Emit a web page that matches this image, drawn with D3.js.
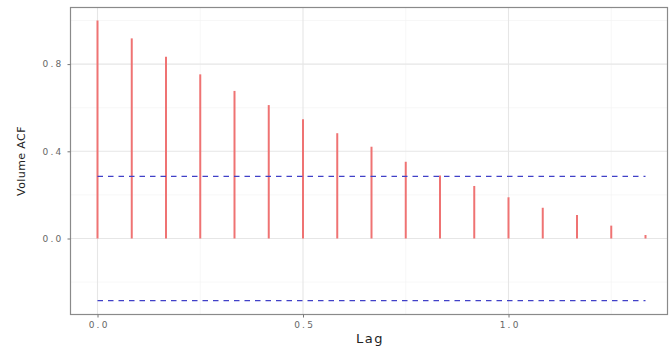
<!DOCTYPE html>
<html>
<head>
<meta charset="utf-8">
<script src="https://cdn.jsdelivr.net/npm/d3@7"></script>
<style>
  html, body { margin: 0; padding: 0; background: #fff; }
  svg { display: block; }
</style>
</head>
<body>
<svg id="chart" width="669" height="351"></svg>
<script>
// ---- data ----
const lags = [0, 1, 2, 3, 4, 5, 6, 7, 8, 9, 10, 11, 12, 13, 14, 15, 16].map(k => k / 12);
const acfValues = [1.0, 0.918, 0.834, 0.753, 0.677, 0.612, 0.547, 0.483, 0.421, 0.352, 0.289, 0.241, 0.189, 0.141, 0.108, 0.059, 0.016];
const ciBound = 0.285;
const xTicks = [0.0, 0.5, 1.0];
const xMinorTicks = [0.25, 0.75, 1.25];
const yTicks = [0.0, 0.4, 0.8];
const yMinorTicks = [-0.2, 0.2, 0.6, 1.0];
const xTitle = "Lag";
const yTitle = "Volume ACF";

// ---- layout ----
const svg = d3.select("#chart");
const panel = { left: 70.5, right: 667.5, top: 7.5, bottom: 314.5 };

const pxPerX = 411;
const x = d3.scaleLinear()
  .domain([(panel.left - 97.5) / pxPerX, (panel.right - 97.5) / pxPerX])
  .range([panel.left, panel.right]);
const pxPerY = 218;
const y = d3.scaleLinear()
  .domain([-(panel.bottom - 238.5) / pxPerY, (238.5 - panel.top) / pxPerY])
  .range([panel.bottom, panel.top]);

// minor grid
svg.append("g").selectAll("line").data(xMinorTicks).join("line")
  .attr("x1", d => x(d)).attr("x2", d => x(d))
  .attr("y1", panel.top).attr("y2", panel.bottom)
  .attr("stroke", "#f2f2f2").attr("stroke-width", 0.6);
svg.append("g").selectAll("line").data(yMinorTicks).join("line")
  .attr("y1", d => y(d)).attr("y2", d => y(d))
  .attr("x1", panel.left).attr("x2", panel.right)
  .attr("stroke", "#f2f2f2").attr("stroke-width", 0.6);
// major grid
svg.append("g").selectAll("line").data(xTicks).join("line")
  .attr("x1", d => x(d)).attr("x2", d => x(d))
  .attr("y1", panel.top).attr("y2", panel.bottom)
  .attr("stroke", "#e6e6e6").attr("stroke-width", 1.1);
svg.append("g").selectAll("line").data(yTicks).join("line")
  .attr("y1", d => y(d)).attr("y2", d => y(d))
  .attr("x1", panel.left).attr("x2", panel.right)
  .attr("stroke", "#e6e6e6").attr("stroke-width", 1.1);

// ACF bars
svg.append("g").selectAll("line").data(acfValues).join("line")
  .attr("x1", (d, i) => x(lags[i])).attr("x2", (d, i) => x(lags[i]))
  .attr("y1", y(0)).attr("y2", d => y(d))
  .attr("stroke", "#ef7373").attr("stroke-width", 2);

// confidence lines
const lagExtent = d3.extent(lags);
svg.append("g").selectAll("line").data([ciBound, -ciBound]).join("line")
  .attr("x1", x(lagExtent[0])).attr("x2", x(lagExtent[1]))
  .attr("y1", d => y(d)).attr("y2", d => y(d))
  .attr("stroke", "#4040c8").attr("stroke-width", 1.2)
  .attr("stroke-dasharray", "5.5,5");

// panel border
svg.append("rect")
  .attr("x", panel.left).attr("y", panel.top)
  .attr("width", panel.right - panel.left).attr("height", panel.bottom - panel.top)
  .attr("fill", "none").attr("stroke", "#8a8a8a").attr("stroke-width", 1.2);

// axes
const fontFam = "'DejaVu Sans', Verdana, sans-serif";
const xAxis = svg.append("g").attr("transform", `translate(0,${panel.bottom})`)
  .call(d3.axisBottom(x).tickValues(xTicks).tickFormat(d3.format(".1f")).tickSize(3).tickPadding(4));
const yAxis = svg.append("g").attr("transform", `translate(${panel.left},0)`)
  .call(d3.axisLeft(y).tickValues(yTicks).tickFormat(d3.format(".1f")).tickSize(3).tickPadding(5));
[xAxis, yAxis].forEach(g => {
  g.select(".domain").remove();
  g.selectAll(".tick line").attr("stroke", "#777").attr("stroke-width", 1);
  g.selectAll(".tick text").attr("fill", "#666").attr("font-family", fontFam)
    .attr("font-size", 9).attr("letter-spacing", 2.2);
});
xAxis.selectAll(".tick text").attr("dx", 1.1);
yAxis.selectAll(".tick text").attr("dx", 1);

// titles
svg.append("text")
  .attr("x", (panel.left + panel.right) / 2 + 1).attr("y", 343)
  .attr("text-anchor", "middle").attr("font-family", fontFam)
  .attr("font-size", 13).attr("letter-spacing", 1.5).attr("fill", "#222").text(xTitle);
svg.append("text")
  .attr("transform", `translate(25,${(panel.top + panel.bottom) / 2}) rotate(-90)`)
  .attr("text-anchor", "middle").attr("font-family", fontFam)
  .attr("font-size", 11).attr("letter-spacing", 0.4).attr("fill", "#222").text(yTitle);
</script>
</body>
</html>
